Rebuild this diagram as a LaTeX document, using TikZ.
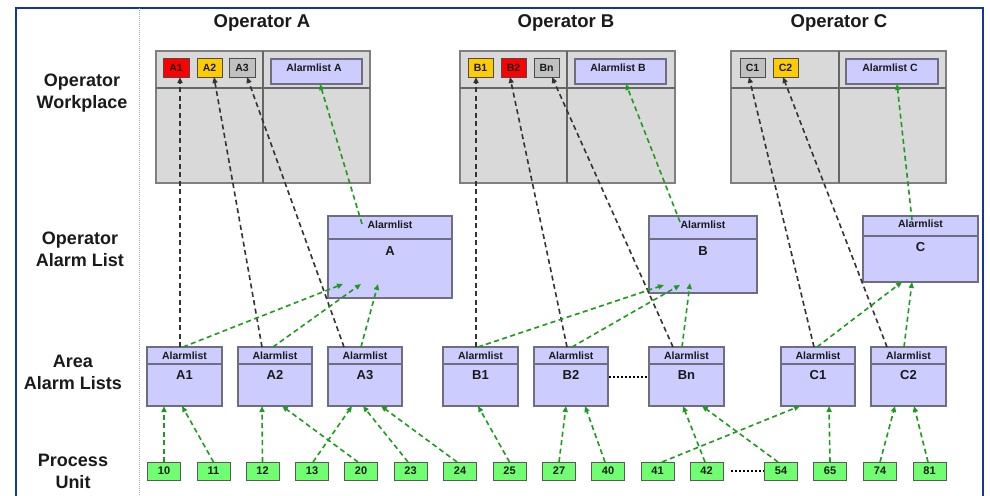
\documentclass[tikz,border=0pt]{standalone}
\usepackage{fontspec}
\setmainfont{Liberation Sans}
\usetikzlibrary{arrows.meta}
\definecolor{frameblue}{HTML}{14349E}
\definecolor{wpgrey}{HTML}{D9D9D9}
\definecolor{wpline}{HTML}{7F7F7F}
\definecolor{lav}{HTML}{CCCCFF}
\definecolor{lavline}{HTML}{6E6E80}
\definecolor{procgreen}{HTML}{70FF70}
\definecolor{arrgreen}{HTML}{1E9A1E}
\definecolor{alred}{HTML}{FF0000}
\definecolor{alyellow}{HTML}{FFCC00}
\definecolor{algrey}{HTML}{C0C0C0}
\definecolor{txt}{HTML}{1A1A1A}
% box by corners: [style]{x1}{y1}{x2}{y2}{name}{text}
\newcommand\rbox[7][]{%
  \pgfmathsetmacro\rbw{#4-#2}\pgfmathsetmacro\rbh{#5-#3}%
  \node[#1,minimum width=\rbw pt,minimum height=\rbh pt,anchor=north west] (#6) at (#2,#3) {#7};}
\begin{document}
\begin{tikzpicture}[x=1pt,y=-1pt,
  wp/.style={draw=wpline,fill=wpgrey,line width=1.4pt,inner sep=0pt,outer sep=0pt},
  wpdiv/.style={draw=black!60,line width=1.2pt},
  sbox/.style={draw=black!70,line width=1pt,inner sep=0pt,outer sep=0pt,text=txt,font=\fontsize{10.5}{12}\selectfont\bfseries},
  lbox/.style={draw=lavline,fill=lav,line width=1.4pt,inner sep=0pt,outer sep=0pt},
  lbdiv/.style={draw=lavline,line width=1.2pt},
  pbox/.style={draw=black!65,fill=procgreen,line width=1pt,inner sep=0pt,outer sep=0pt,text=txt,font=\fontsize{11}{12}\selectfont\bfseries},
  hdr/.style={inner sep=0pt,text=txt,font=\fontsize{10.5}{12}\selectfont\bfseries},
  nm/.style={inner sep=0pt,text=txt,font=\fontsize{13}{15}\selectfont\bfseries},
  lab/.style={inner sep=0pt,align=center,text=txt,font=\fontsize{18}{22}\selectfont\bfseries},
  ttl/.style={inner sep=0pt,text=txt,font=\fontsize{18.5}{22}\selectfont\bfseries},
  garr/.style={draw=arrgreen,line width=1.6pt,dash pattern=on 5pt off 3.5pt,-{Triangle[length=6pt,width=5pt,fill=arrgreen]}},
  karr/.style={draw=black!80,line width=1.6pt,dash pattern=on 5pt off 3.5pt,-{Triangle[length=6pt,width=5pt,fill=black!80]}},
  dotl/.style={draw=black,line width=2pt,dash pattern=on 2pt off 2pt}
]
\useasboundingbox (0,0) rectangle (990,495);
\fill[white] (0,0) rectangle (990,495);
% frame
\draw[frameblue,line width=2.2pt] (16,500) -- (16,8) -- (983,8) -- (983,500);
\draw[black!35,line width=0.8pt,dash pattern=on 1pt off 1pt] (139,8) -- (139,500);

% row labels
\node[lab] (lwp) at (82,93) {Operator\\Workplace};
\node[lab] (lol) at (80,249) {Operator\\Alarm List};
\node[lab] (lal) at (73,372.5) {Area\\Alarm Lists};
\node[lab] (lpu) at (73,471.5) {Process\\Unit};

% titles
\node[ttl] (tiA) at (262,23) {Operator A};
\node[ttl] (tiB) at (566,23) {Operator B};
\node[ttl] (tiC) at (839,23) {Operator C};

% workplaces
\rbox[wp]{156}{51}{370}{183}{wpA}{}
\draw[wpdiv] (156,88) -- (370,88) (263,51) -- (263,183);
\rbox[wp]{460}{51}{675}{183}{wpB}{}
\draw[wpdiv] (460,88) -- (675,88) (567,51) -- (567,183);
\rbox[wp]{731}{51}{946}{183}{wpC}{}
\draw[wpdiv] (731,88) -- (946,88) (839,51) -- (839,183);

% small alarm boxes
\rbox[sbox,fill=alred]{163}{59}{189}{77}{sA1}{A1}
\rbox[sbox,fill=alyellow]{197}{59}{222}{77}{sA2}{A2}
\rbox[sbox,fill=algrey]{229}{59}{255}{77}{sA3}{A3}
\rbox[sbox,fill=alyellow]{468}{59}{493}{77}{sB1}{B1}
\rbox[sbox,fill=alred]{501}{59}{526}{77}{sB2}{B2}
\rbox[sbox,fill=algrey]{534}{59}{559}{77}{sBn}{Bn}
\rbox[sbox,fill=algrey]{740}{59}{765}{77}{sC1}{C1}
\rbox[sbox,fill=alyellow]{773}{59}{798}{77}{sC2}{C2}

% alarmlist boxes in workplaces
\rbox[lbox]{271}{59}{362}{84}{tA}{}
\node[hdr] (tAt) at (314,68) {Alarmlist A};
\rbox[lbox]{575}{59}{666}{84}{tB}{}
\node[hdr] (tBt) at (618,68) {Alarmlist B};
\rbox[lbox]{846}{59}{938}{84}{tC}{}
\node[hdr] (tCt) at (890,68) {Alarmlist C};

% operator alarm lists
\rbox[lbox]{328}{216}{452}{298}{oA}{}
\draw[lbdiv] (328,239) -- (452,239);
\node[hdr] (oAh) at (390,225) {Alarmlist};
\node[nm] (oAn) at (390,251) {A};
\rbox[lbox]{649}{216}{757}{293}{oB}{}
\draw[lbdiv] (649,239) -- (757,239);
\node[hdr] (oBh) at (703,225) {Alarmlist};
\node[nm] (oBn) at (703,251) {B};
\rbox[lbox]{863}{216}{978}{282}{oC}{}
\draw[lbdiv] (863,236) -- (978,236);
\node[hdr] (oCh) at (920.5,224) {Alarmlist};
\node[nm] (oCn) at (920.5,247) {C};

% area alarm lists
\foreach \nme/\xa/\xb/\lbl in {aA1/147/222/A1,aA2/238/312/A2,aA3/328/402/A3,aB1/443/518/B1,aB2/534/608/B2,aBn/649/724/Bn,aC1/781/855/C1,aC2/871/946/C2}{
  \rbox[lbox]{\xa}{347}{\xb}{406}{\nme}{}
  \draw[lbdiv] (\xa,364) -- (\xb,364);
  \node[hdr] (\nme h) at ({(\xa+\xb)/2},356) {Alarmlist};
  \node[nm] (\nme n) at ({(\xa+\xb)/2},375) {\lbl};
}
\draw[dotl] ([xshift=1pt]aB2.east) -- ([xshift=-1pt]aBn.west);

% process units
\foreach \n/\xc in {10/164,11/213.5,12/262.5,13/312,20/361,23/410.5,24/460,25/509.5,27/559,40/608,41/657.5,42/706.5,54/781,65/830,74/880,81/929.5}{
  \node[pbox,minimum width=33pt,minimum height=18pt] (p\n) at (\xc,471) {\n};
}
\draw[dotl] ([xshift=8pt]p42.east) -- ([xshift=-1pt]p54.west);

% black dashed: area list -> workplace alarm
\draw[karr] ([xshift=-4.5pt]aA1.north) -- ([xshift=4pt]sA1.south);
\draw[karr] ([xshift=-13pt]aA2.north) -- ([xshift=4.5pt]sA2.south);
\draw[karr] ([xshift=-21pt]aA3.north) -- ([xshift=5pt]sA3.south);
\draw[karr] ([xshift=-4.5pt]aB1.north) -- ([xshift=-4.5pt]sB1.south);
\draw[karr] ([xshift=-4pt]aB2.north) -- ([xshift=-3.5pt]sB2.south);
\draw[karr] ([xshift=-13.5pt]aBn.north) -- ([xshift=5.5pt]sBn.south);
\draw[karr] ([xshift=-4pt]aC1.north) -- ([xshift=-3.5pt]sC1.south);
\draw[karr] ([xshift=-21.5pt]aC2.north) -- ([xshift=-2.5pt]sC2.south);

% green: area list -> operator alarm list
\draw[garr] ([xshift=-1.5pt]aA1.north) -- ([xshift=-47pt,yshift=14pt]oA.south);
\draw[garr] ([xshift=-2pt]aA2.north) -- ([xshift=-29pt,yshift=14pt]oA.south);
\draw[garr] ([xshift=-4pt]aA3.north) -- ([xshift=-12pt,yshift=14pt]oA.south);
\draw[garr] ([xshift=-2.5pt]aB1.north) -- ([xshift=-39pt,yshift=8pt]oB.south);
\draw[garr] ([xshift=1pt]aB2.north) -- ([xshift=-23pt,yshift=8pt]oB.south);
\draw[garr] ([xshift=-4.5pt]aBn.north) -- ([xshift=-13pt,yshift=10pt]oB.south);
\draw[garr] ([xshift=-1pt]aC1.north) -- ([xshift=-18.5pt]oC.south);
\draw[garr] ([xshift=-4.5pt]aC2.north) -- ([xshift=-8.5pt]oC.south);

% green: operator alarm list -> workplace alarmlist
\draw[garr] ([xshift=-28pt,yshift=-8pt]oA.north) -- ([xshift=3.5pt]tA.south);
\draw[garr] ([xshift=-23pt,yshift=-6pt]oB.north) -- ([xshift=5.5pt]tB.south);
\draw[garr] ([xshift=-8.5pt,yshift=-4pt]oC.north) -- ([xshift=5pt]tC.south);

% green: process unit -> area list
\draw[garr] (p10.north) -- ([xshift=-20.5pt]aA1.south);
\draw[garr] (p11.north) -- ([xshift=-2.5pt]aA1.south);
\draw[garr] (p12.north) -- ([xshift=-13pt]aA2.south);
\draw[garr] ([xshift=1pt]p13.north) -- ([xshift=-13pt]aA3.south);
\draw[garr] ([xshift=-3pt]p20.north) -- ([xshift=7pt]aA2.south);
\draw[garr] ([xshift=-2.5pt]p23.north) -- ([xshift=-2pt]aA3.south);
\draw[garr] ([xshift=-3pt]p24.north) -- ([xshift=16pt]aA3.south);
\draw[garr] (p25.north) -- ([xshift=-2.5pt]aB1.south);
\draw[garr] (p27.north) -- ([xshift=-5pt]aB2.south);
\draw[garr] ([xshift=-3pt]p40.north) -- ([xshift=14pt]aB2.south);
\draw[garr] ([xshift=4.5pt]p41.north) -- ([xshift=-18pt]aC1.south);
\draw[garr] ([xshift=-1.5pt]p42.north) -- ([xshift=-3.5pt]aBn.south);
\draw[garr] ([xshift=-3pt]p54.north) -- ([xshift=15.5pt]aBn.south);
\draw[garr] (p65.north) -- ([xshift=11pt]aC1.south);
\draw[garr] (p74.north) -- ([xshift=-13.5pt]aC2.south);
\draw[garr] ([xshift=-1.5pt]p81.north) -- ([xshift=5.5pt]aC2.south);
\end{tikzpicture}
\end{document}
